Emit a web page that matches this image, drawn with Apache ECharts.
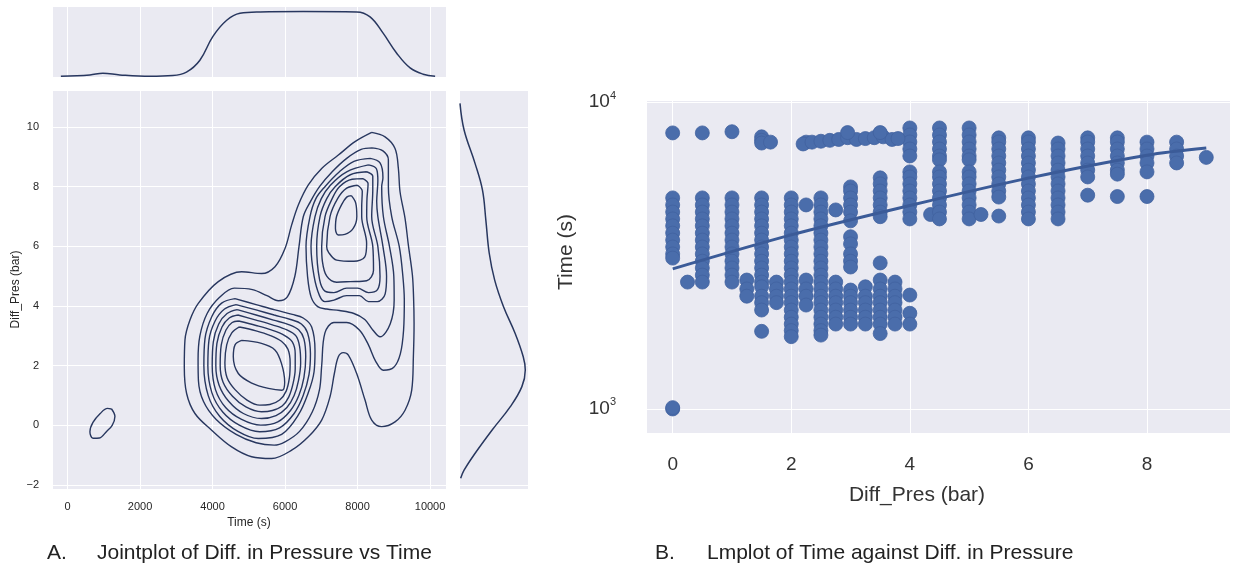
<!DOCTYPE html>
<html>
<head>
<meta charset="utf-8">
<script src="https://cdn.jsdelivr.net/npm/echarts@6/dist/echarts.min.js"></script>
<style>
  html, body { margin: 0; padding: 0; background: #fff; }
  #main { width: 1233px; height: 573px; }
</style>
</head>
<body>
<div id="main"></div>
<script>
// ---------- A: jointplot (KDE contours) ----------
// each contour is a list of [time (s), diff pres (bar)]
const kdeC1 = [[8390,9.82],[8758,9.67],[9034,9.28],[9126,8.61],[9172,7.83],[9310,6.94],[9402,6.04],[9513,5.04],[9545,4.3],[9559,3.42],[9540,2.3],[9494,1.18],[9310,0.51],[9034,0.12],[8666,-0.04],[8390,0.18],[8206,0.85],[7976,1.74],[7746,2.36],[7608,2.44],[7470,2.3],[7360,1.74],[7240,0.96],[7010,0.18],[6642,-0.38],[6182,-0.83],[5630,-1.11],[5078,-1.05],[4526,-0.72],[3974,-0.16],[3514,0.4],[3284,1.07],[3220,1.97],[3238,2.86],[3376,3.53],[3606,4.09],[4158,4.82],[4802,5.15],[5354,5.09],[5722,5.32],[5998,5.93],[6182,6.72],[6366,7.39],[6642,8.06],[7010,8.61],[7470,9.06],[7930,9.51],[8390,9.82]];
const kdeC2 = [[8400,9.3],[8700,9.2],[8850,8.9],[8850,8.0],[8942,7.0],[9150,6.0],[9250,5.0],[9290,4.2],[9270,3.2],[9180,2.4],[9000,1.95],[8712,1.85],[8500,2.15],[8300,2.7],[8050,3.2],[7700,3.45],[7350,3.45],[7100,3.1],[7010,2.0],[6950,1.2],[6750,0.45],[6400,-0.2],[6000,-0.55],[5700,-0.66],[5200,-0.58],[4650,-0.3],[4100,0.2],[3750,0.8],[3610,1.5],[3600,2.2],[3650,3.0],[3850,3.75],[4200,4.3],[4600,4.6],[5100,4.55],[5500,4.35],[5814,4.18],[6063,4.31],[6270,5.0],[6385,6.0],[6504,7.0],[6700,7.5],[6950,8.0],[7300,8.5],[7700,8.95],[8100,9.25],[8400,9.3]];
const kdeC3R = [[8350,8.95],[8620,8.8],[8700,8.3],[8666,8.0],[8712,7.0],[8880,6.0],[9000,5.0],[9010,4.2],[8900,3.4],[8620,2.97],[8420,3.2],[8200,3.55],[7900,3.75],[7500,3.85],[7150,3.9],[6900,3.98],[6720,4.3],[6620,5.0],[6578,6.0],[6688,7.0],[6850,7.6],[7100,8.0],[7500,8.5],[7900,8.85],[8350,8.95]];
const kdeC4R = [[8300,8.73],[8520,8.6],[8560,8.2],[8528,7.5],[8560,7.0],[8700,6.0],[8800,5.0],[8760,4.4],[8550,4.15],[8300,4.15],[8050,4.35],[7700,4.35],[7350,4.2],[7100,4.15],[6950,4.35],[6800,5.0],[6716,6.0],[6826,7.0],[7000,7.6],[7250,8.05],[7700,8.5],[8300,8.73]];
const kdeC5R = [[8250,8.5],[8420,8.35],[8420,7.9],[8390,7.0],[8560,6.0],[8620,5.0],[8550,4.55],[8300,4.45],[8000,4.6],[7700,4.6],[7350,4.45],[7100,4.5],[6950,4.9],[6872,6.0],[6964,7.0],[7150,7.6],[7380,8.0],[7800,8.4],[8250,8.5]];
const kdeC6R = [[8150,8.27],[8290,8.1],[8260,7.6],[8252,7.0],[8420,6.0],[8440,5.2],[8250,4.85],[7800,4.82],[7424,4.8],[7150,5.0],[7030,5.5],[7010,6.0],[7102,7.0],[7300,7.6],[7500,8.0],[7850,8.25],[8150,8.27]];
const kdeC7R = [[8000,8.05],[8130,7.85],[8114,7.3],[8114,7.0],[8250,6.1],[8200,5.65],[7900,5.5],[7424,5.54],[7200,5.8],[7148,6.0],[7240,7.0],[7450,7.6],[7700,7.95],[8000,8.05]];
const kdeC8R = [[7830,7.7],[7950,7.45],[7980,7.0],[7880,6.6],[7650,6.4],[7470,6.38],[7390,6.6],[7420,7.0],[7560,7.4],[7700,7.65],[7830,7.7]];
const kdeC3L = [[4618,4.25],[5200,4.05],[5722,3.87],[6200,3.72],[6500,3.6],[6734,3.3],[6826,2.5],[6800,1.8],[6642,1.1],[6366,0.35],[5906,-0.3],[5262,-0.44],[4700,-0.2],[4200,0.3],[3880,1.0],[3760,2.0],[3790,2.9],[3980,3.65],[4250,4.1],[4618,4.25]];
const kdeC4L = [[4650,4.05],[5200,3.87],[5700,3.7],[6150,3.55],[6450,3.4],[6620,3.1],[6700,2.4],[6660,1.7],[6500,1.0],[6250,0.4],[5850,-0.08],[5300,-0.21],[4750,0.0],[4280,0.45],[3980,1.1],[3870,2.0],[3900,2.85],[4070,3.5],[4330,3.9],[4650,4.05]];
const kdeC5L = [[4680,3.88],[5200,3.7],[5680,3.53],[6100,3.38],[6380,3.2],[6520,2.9],[6570,2.3],[6520,1.6],[6380,1.0],[6150,0.5],[5800,0.12],[5330,0.01],[4800,0.2],[4360,0.6],[4080,1.2],[3990,2.0],[4020,2.8],[4170,3.4],[4400,3.75],[4680,3.88]];
const kdeC6L = [[4700,3.7],[5200,3.53],[5650,3.37],[6050,3.2],[6300,3.0],[6400,2.65],[6430,2.1],[6370,1.5],[6250,1.0],[6050,0.6],[5750,0.33],[5350,0.23],[4850,0.4],[4450,0.8],[4180,1.35],[4090,2.0],[4120,2.75],[4260,3.3],[4460,3.6],[4700,3.7]];
const kdeC7L = [[4720,3.5],[5200,3.35],[5620,3.2],[5980,3.02],[6200,2.8],[6280,2.4],[6280,1.9],[6220,1.4],[6100,0.95],[5920,0.65],[5650,0.5],[5350,0.46],[4920,0.62],[4550,0.98],[4290,1.45],[4210,2.0],[4240,2.7],[4370,3.2],[4540,3.45],[4720,3.5]];
const kdeC8L = [[4740,3.3],[5200,3.17],[5580,3.02],[5900,2.82],[6080,2.55],[6140,2.1],[6120,1.6],[6030,1.15],[5850,0.85],[5580,0.7],[5300,0.68],[4950,0.85],[4620,1.2],[4400,1.6],[4340,2.1],[4390,2.7],[4530,3.1],[4740,3.3]];
const kdeC9L = [[4800,2.85],[5350,2.75],[5720,2.53],[5900,2.08],[5990,1.45],[5910,1.18],[5540,1.24],[5080,1.42],[4710,1.74],[4572,2.3],[4620,2.7],[4800,2.85]];
const kdeBlob = [[1214,0.55],[1306,0.3],[1230,0.0],[1076,-0.2],[880,-0.42],[700,-0.43],[616,-0.21],[700,0.1],[900,0.4],[1100,0.57],[1214,0.55]];

// marginal densities (share of the panel height / width)
const topMargin = [[-185,0.01],[615,0.03],[975,0.055],[1440,0.03],[2270,0.01],[2900,0.02],[3280,0.07],[3650,0.24],[4010,0.58],[4390,0.81],[4755,0.91],[5310,0.93],[6500,0.935],[7975,0.93],[8345,0.86],[8700,0.63],[9080,0.34],[9450,0.13],[9810,0.04],[10140,0.01]];
const rightMargin = [[0.0,10.79],[0.06,9.9],[0.22,8.79],[0.33,7.89],[0.38,6.88],[0.43,5.77],[0.51,4.87],[0.64,3.98],[0.81,3.09],[0.93,2.3],[0.96,1.86],[0.91,1.3],[0.74,0.63],[0.47,-0.16],[0.22,-0.94],[0.06,-1.5],[0.01,-1.77]];

// ---------- B: lmplot (scatter, log time axis) ----------
const lmPres = [0, 0.25, 0.5, 1, 1.25, 1.5, 1.65, 1.75, 2, 2.25, 2.5, 2.75, 3, 3.25, 3.5, 3.75, 4, 4.35, 4.5, 5, 5.2, 5.5, 6, 6.5, 7, 7.5, 8, 8.5, 9];
const lmTimes = [
  [7930, 4870, 4620, 4380, 4160, 3950, 3740, 3550, 3370, 3200, 3100, 1000, 1010],
  [2590],
  [7930, 4870, 4620, 4380, 4160, 3950, 3740, 3550, 3370, 3200, 3030, 2880, 2730, 2590],
  [8000, 4870, 4620, 4380, 4160, 3950, 3740, 3550, 3370, 3200, 3030, 2880, 2730, 2590],
  [2630, 2460, 2330],
  [7700, 7500, 7350, 4870, 4620, 4380, 4160, 3950, 3740, 3550, 3370, 3200, 3030, 2880, 2730, 2590, 2500, 2330, 2220, 2100, 1790],
  [7400],
  [2590, 2460, 2330, 2220],
  [4870, 4620, 4380, 4160, 3950, 3740, 3550, 3370, 3200, 3030, 2880, 2730, 2590, 2460, 2330, 2220, 2100, 1990, 1890, 1800, 1720],
  [7400, 4620, 2630, 2460, 2330, 2180],
  [4870, 4620, 4380, 4160, 3950, 3740, 3550, 3370, 3200, 3030, 2880, 2730, 2590, 2460, 2330, 2220, 2100, 1990, 1890, 1800, 1740],
  [4450, 2590, 2460, 2330, 2220, 2100, 1990, 1890],
  [5290, 5130, 4870, 4620, 4380, 4100, 3640, 3450, 3200, 3030, 2900, 2440, 2330, 2220, 2100, 1990, 1890],
  [2500, 2330, 2220, 2100, 1990, 1890],
  [5660, 5410, 5130, 4870, 4620, 4380, 4230, 2990, 2630, 2460, 2330, 2220, 2100, 1990, 1890, 1760],
  [2590, 2460, 2330, 2220, 2100, 1990, 1890],
  [8230, 7810, 7410, 7030, 6670, 5920, 5700, 5410, 5130, 4870, 4620, 4380, 4160, 2350, 2050, 1890],
  [4300],
  [8230, 7810, 7410, 7030, 6670, 6480, 5920, 5700, 5410, 5130, 4870, 4620, 4380, 4160],
  [8230, 7810, 7410, 7030, 6670, 6480, 5920, 5700, 5410, 5130, 4870, 4620, 4380, 4160],
  [4300],
  [7640, 7410, 7030, 6670, 6330, 6000, 5700, 5410, 5130, 4900, 4250],
  [7640, 7410, 7030, 6670, 6330, 6000, 5700, 5410, 5130, 4870, 4620, 4380, 4160],
  [7350, 7030, 6670, 6330, 6000, 5700, 5410, 5130, 4870, 4620, 4380, 4160],
  [7640, 7410, 7030, 6670, 6330, 6000, 5700, 4970],
  [7640, 7410, 7030, 6670, 6330, 6000, 5820, 4920],
  [7400, 7030, 6670, 6330, 5920, 4920],
  [7400, 7030, 6670, 6330],
  [6600]
];
// the row of runs near 7500 s between 2 and 4 bar
const lmTopRow = [[2.2,7300],[2.35,7400],[2.5,7450],[2.65,7500],[2.8,7550],[2.95,7650],[3.1,7550],[3.25,7600],[3.4,7650],[3.55,7700],[3.7,7550],[3.8,7600],[2.95,7950],[3.5,7950]];
const lmFitPres = [0, 2, 4, 6, 8, 9];
const lmFitTime = [2860, 3690, 4600, 5650, 6710, 7080];

// ---------- chart ----------
const INK = '#28375f';
const PANEL = '#eaeaf2';
const TXT = '#262626';

const scatterData = [];
lmPres.forEach((p, i) => lmTimes[i].forEach(t => scatterData.push([p, t])));
lmTopRow.forEach(d => scatterData.push(d));

const kdeLines = [kdeC1, kdeC2, kdeC3R, kdeC4R, kdeC5R, kdeC6R, kdeC7R, kdeC8R,
  kdeC3L, kdeC4L, kdeC5L, kdeC6L, kdeC7L, kdeC8L, kdeC9L, kdeBlob];

const myChart = echarts.init(document.getElementById('main'));

const hide = { axisLine: { show: false }, axisTick: { show: false } };
const whiteGrid = { show: true, lineStyle: { color: '#ffffff', width: 1 } };
const minus = v => String(v).replace('-', '\u2212');

const option = {
  animation: false,
  backgroundColor: '#ffffff',
  grid: [
    { left: 52, top: 90, width: 394, height: 399, show: true, backgroundColor: PANEL, borderWidth: 0 },
    { left: 52, top: 7, width: 394, height: 70, show: true, backgroundColor: PANEL, borderWidth: 0 },
    { left: 460, top: 90, width: 68, height: 399, show: true, backgroundColor: PANEL, borderWidth: 0 },
    { left: 646, top: 100, right: 0, height: 333, show: true, backgroundColor: PANEL, borderWidth: 0 }
  ],
  xAxis: [
    Object.assign({
      gridIndex: 0, type: 'value', min: -430, max: 10440, minInterval: 2000, maxInterval: 2000,
      splitLine: whiteGrid,
      axisLabel: { fontSize: 11, color: TXT, margin: 12, fontFamily: 'Liberation Sans',
        formatter: v => (Math.abs(v % 2000) < 1e-6 ? v : '') },
      name: 'Time (s)', nameLocation: 'middle', nameGap: 26,
      nameTextStyle: { fontSize: 12, color: TXT, fontFamily: 'Liberation Sans' }
    }, hide),
    Object.assign({
      gridIndex: 1, type: 'value', min: -430, max: 10440, minInterval: 2000, maxInterval: 2000,
      splitLine: whiteGrid, axisLabel: { show: false }
    }, hide),
    Object.assign({
      gridIndex: 2, type: 'value', min: 0, max: 1, splitLine: { show: false }, axisLabel: { show: false }
    }, hide),
    Object.assign({
      gridIndex: 3, type: 'value', min: -0.45, max: 9.4, minInterval: 2, maxInterval: 2,
      splitLine: whiteGrid,
      axisLabel: { fontSize: 19, color: '#333', margin: 22, fontFamily: 'Liberation Sans',
        formatter: v => (Math.abs(v % 2) < 1e-6 ? v : '') }
    }, hide)
  ],
  yAxis: [
    Object.assign({
      gridIndex: 0, type: 'value', min: -2.13, max: 11.24, minInterval: 2, maxInterval: 2,
      splitLine: whiteGrid,
      axisLabel: { fontSize: 11, color: TXT, margin: 13, fontFamily: 'Liberation Sans',
        formatter: v => (Math.abs(v % 2) < 1e-6 ? minus(v) : '') },
      name: 'Diff_Pres (bar)', nameLocation: 'middle', nameGap: 30,
      nameTextStyle: { fontSize: 12, color: TXT, fontFamily: 'Liberation Sans' }
    }, hide),
    Object.assign({
      gridIndex: 1, type: 'value', min: 0, max: 1, splitLine: { show: false }, axisLabel: { show: false }
    }, hide),
    Object.assign({
      gridIndex: 2, type: 'value', min: -2.13, max: 11.24, minInterval: 2, maxInterval: 2,
      splitLine: whiteGrid, axisLabel: { show: false }
    }, hide),
    Object.assign({
      gridIndex: 3, type: 'log', logBase: 10, min: 835, max: 10150,
      splitLine: whiteGrid,
      axisLabel: {
        margin: 30, color: '#333', fontFamily: 'Liberation Sans',
        formatter: v => {
          const e = Math.log10(v);
          if (Math.abs(e - Math.round(e)) > 1e-6) return '';
          return '{b|10}{s|' + Math.round(e) + '}';
        },
        rich: {
          b: { fontSize: 19, color: '#333', lineHeight: 24 },
          s: { fontSize: 11, color: '#333', verticalAlign: 'top', lineHeight: 12 }
        }
      }
    }, hide)
  ],
  graphic: [
    { type: 'text', left: 47, top: 543, style: { text: 'A.', fontSize: 21, fill: '#222', fontFamily: 'Liberation Sans' } },
    { type: 'text', left: 97, top: 543, style: { text: 'Jointplot of Diff. in Pressure vs Time', fontSize: 21, fill: '#222', fontFamily: 'Liberation Sans' } },
    { type: 'text', left: 655, top: 543, style: { text: 'B.', fontSize: 21, fill: '#222', fontFamily: 'Liberation Sans' } },
    { type: 'text', left: 707, top: 543, style: { text: 'Lmplot of Time against Diff. in Pressure', fontSize: 21, fill: '#222', fontFamily: 'Liberation Sans' } },
    { type: 'text', x: 917, y: 495, style: { text: 'Diff_Pres (bar)', fontSize: 21, fill: '#333', fontFamily: 'Liberation Sans', align: 'center', verticalAlign: 'middle' } },
    { type: 'text', x: 566, y: 252, rotation: Math.PI / 2, style: { text: 'Time (s)', fontSize: 21, fill: '#333', fontFamily: 'Liberation Sans', align: 'center', verticalAlign: 'middle' } }
  ],
  series: [
    ...kdeLines.map(pts => ({
      type: 'line', xAxisIndex: 0, yAxisIndex: 0, data: pts, smooth: 0.35,
      showSymbol: false, symbol: 'none', silent: true,
      lineStyle: { color: INK, width: 1.4 }
    })),
    {
      type: 'line', xAxisIndex: 1, yAxisIndex: 1, data: topMargin, smooth: 0.4,
      showSymbol: false, symbol: 'none', silent: true, lineStyle: { color: INK, width: 1.5 }
    },
    {
      type: 'line', xAxisIndex: 2, yAxisIndex: 2, data: rightMargin, smooth: 0.4,
      showSymbol: false, symbol: 'none', silent: true, lineStyle: { color: INK, width: 1.5 }
    },
    {
      type: 'scatter', xAxisIndex: 3, yAxisIndex: 3, data: scatterData, symbolSize: 14,
      silent: true,
      itemStyle: { color: '#4a6dab', borderColor: '#41629f', borderWidth: 0.8, opacity: 1 }
    },
    {
      type: 'line', xAxisIndex: 3, yAxisIndex: 3,
      data: lmFitPres.map((p, i) => [p, lmFitTime[i]]), smooth: 0.3,
      showSymbol: false, symbol: 'none', silent: true, z: 5,
      lineStyle: { color: '#3b5b98', width: 3 }
    }
  ]
};

myChart.setOption(option);
</script>
</body>
</html>
